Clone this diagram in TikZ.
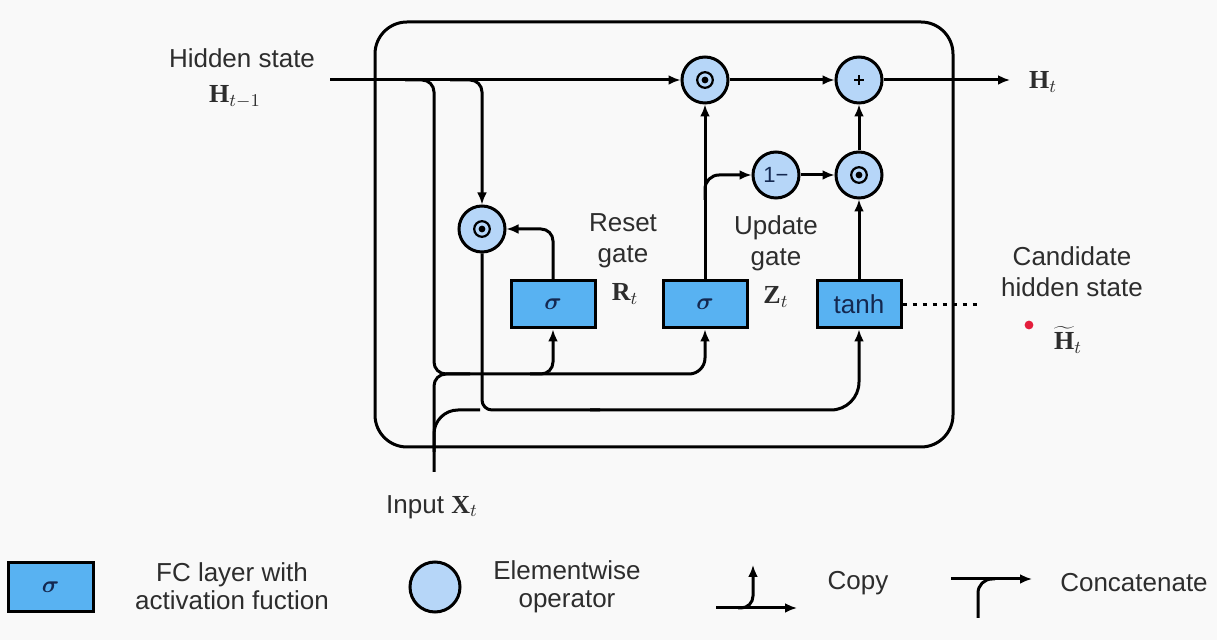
\documentclass[tikz,border=0pt]{standalone}
\usepackage[no-math]{fontspec}
\setmainfont{Liberation Sans}
\newfontfamily\tnrfont{Liberation Serif}
\usepackage{bm}
\usetikzlibrary{arrows.meta}
\newcommand{\bvec}[1]{\hbox{\tnrfont\bfseries #1}}
\definecolor{boxblue}{RGB}{88,178,242}
\definecolor{circblue}{RGB}{182,214,248}
\definecolor{bg}{RGB}{249,249,249}
\definecolor{txt}{RGB}{45,45,45}
\definecolor{navy}{RGB}{20,40,80}
\definecolor{dotred}{RGB}{228,30,60}
\begin{document}
\begin{tikzpicture}[x=0.5pt,y=-0.5pt,
  wire/.style={line width=1.5pt},
  arr/.style={wire,-{Latex[length=6pt,width=5pt]}},
  fcbox/.style={draw, line width=1.5pt, fill=boxblue, minimum width=42pt, minimum height=23.5pt, inner sep=0pt, text=navy, font=\fontsize{13}{15}\selectfont},
  elem/.style={circle, draw, line width=1.5pt, fill=circblue, minimum size=23pt, inner sep=0pt},
  odot/.style={elem, path picture={\draw[black, line width=1.1pt] (path picture bounding box.center) circle (3.9pt); \fill[black] (path picture bounding box.center) circle (1.7pt);}},
  plusop/.style={elem, path picture={\draw[black, line width=0.9pt] ([xshift=-2.5pt]path picture bounding box.center) -- ([xshift=2.5pt]path picture bounding box.center); \draw[black, line width=0.9pt] ([yshift=-2.5pt]path picture bounding box.center) -- ([yshift=2.5pt]path picture bounding box.center);}},
  lbl/.style={text=txt, font=\fontsize{13}{15.5}\selectfont, align=center, inner sep=0pt},
  leg/.style={text=txt, font=\fontsize{13}{14}\selectfont, align=center, inner sep=0pt}
]
\fill[bg] (0,0) rectangle (1217,640);
\useasboundingbox (0,0) rectangle (1217,640);

% outer cell
\draw[wire, rounded corners=16pt] (375,22) rectangle (953,447);

% nodes
\node[fcbox] (rs) at (553,304.5) {\large$\bm{\sigma}$};
\node[fcbox] (us) at (705,304.5) {\large$\bm{\sigma}$};
\node[fcbox] (th) at (859,304.5) {tanh};
\node[odot] (rh) at (482,229) {};
\node[odot] (zh) at (705,80) {};
\node[plusop] (pl) at (859,80) {};
\node[elem, font=\fontsize{11}{12}\selectfont, text=navy] (om) at (776,175) {1−};
\node[odot] (zc) at (859,175) {};

\coordinate (hin) at (330,80);
\coordinate (xin) at (434,472);
\coordinate (hout) at (1010,80);
\coordinate (dend) at (978,304.5);

% wires
\draw[arr] (hin) -- (zh);
\draw[arr, rounded corners=6pt] (405,80) -- (434,80) -- (434,374) -- (553,374) -- (rs.south);
\draw[arr, rounded corners=8pt] (530,374) -- (705,374) -- (us.south);
\draw[wire, rounded corners=6pt] (xin) -- (434,374) -- (470,374);
\draw[wire, rounded corners=12pt] (434,452) -- (434,410) -- (480,410);
\draw[arr, rounded corners=6pt] (450,80) -- (482,80) -- (rh.north);
\draw[wire, rounded corners=5pt] (rh.south) -- (482,410) -- (600,410);
\draw[arr, rounded corners=14pt] (590,410) -- (859,410) -- (th.south);
\draw[arr, rounded corners=6pt] (rs.north) -- (553,229) -- (rh.east);
\draw[arr] (us.north) -- (zh.south);
\draw[arr, rounded corners=7pt] (705,200) -- (705,175) -- (om.west);
\draw[arr] (om) -- (zc);
\draw[arr] (th) -- (zc);
\draw[arr] (zc) -- (pl);
\draw[arr] (zh) -- (pl);
\draw[arr] (pl) -- (hout);
\draw[wire, dash pattern=on 2pt off 3pt] (th.east) -- (dend);

% labels
\node[lbl] (hs) at (242,58) {Hidden state};
\node[lbl] (hprev) at (235,97) {$\bvec{H}_{t-1}$};
\node[lbl] (rg) at (623,240.5) {Reset\\gate};
\node[lbl] (rt) at (625,294) {$\bvec{R}_t$};
\node[lbl] (ug) at (776,243) {Update\\gate};
\node[lbl] (zt) at (776,297) {$\bvec{Z}_t$};
\node[lbl] (cand) at (1072,272) {Candidate\\hidden state};
\fill[dotred] (1029,325) circle (2.2pt);
\node[lbl] (htil) at (1068,340) {$\widetilde{\bvec{H}}_t$};
\node[lbl] (ht) at (1043,82) {$\bvec{H}_t$};
\node[lbl] (inp) at (432,507) {Input $\bvec{X}_t$};

% legend
\node[fcbox, minimum width=42.5pt, minimum height=24.5pt] (lbox) at (50.5,587.5) {\large$\bm{\sigma}$};
\node[leg] (lboxt) at (232,586) {FC layer with\\activation fuction};
\node[elem, minimum size=25pt] (lcirc) at (435,587) {};
\node[leg] (lcirct) at (567,587) {Elementwise\\operator};

\coordinate (cpa) at (716,608);
\coordinate (cpb) at (797,608);
\coordinate (cpc) at (753,565);
\draw[arr] (cpa) -- (cpb);
\draw[arr, rounded corners=6pt] (738,608) -- (753,608) -- (cpc);
\node[leg] (copyt) at (858,583) {Copy};

\coordinate (cca) at (951,579);
\coordinate (ccb) at (1032,579);
\coordinate (ccc) at (978,618);
\draw[arr] (cca) -- (ccb);
\draw[wire, rounded corners=7pt] (ccc) -- (978,579) -- (995,579);
\node[leg] (conct) at (1134,583) {Concatenate};
\end{tikzpicture}
\end{document}
